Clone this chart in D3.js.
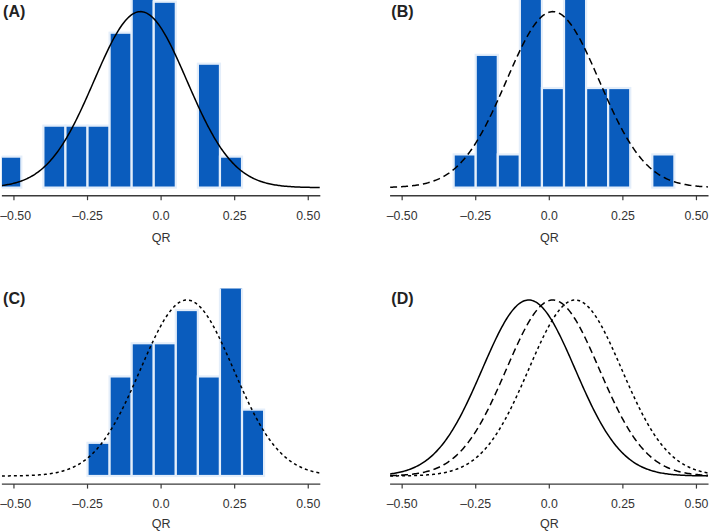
<!DOCTYPE html>
<html>
<head>
<meta charset="utf-8">
<script src="https://cdn.jsdelivr.net/npm/d3@7"></script>
<style>
  html, body { margin: 0; padding: 0; background: #fff; }
  svg { display: block; }
  text { font-family: "Liberation Sans", Arial, sans-serif; }
</style>
</head>
<body>
<svg id="chart" width="709" height="531"></svg>
<script>
// ---------------- data ----------------
const panelLabels = ["(A)", "(B)", "(C)", "(D)"];
const axisTitle = "QR";
const xTicks = [-0.5, -0.25, 0, 0.25, 0.5];
const xTickLabels = ["\u20130.50", "\u20130.25", "0.0", "0.25", "0.50"];

const binWidth = 0.075;
const binStartA = -0.55;
const countsA = [1, 0, 2, 2, 2, 5, 7, 6, 0, 4, 1];
const binStartB = -0.325;
const countsB = [1, 4, 1, 6, 3, 6, 3, 3, 0, 1];
const binStartC = -0.25;
const countsC = [1, 3, 4, 4, 5, 3, 6, 2];

// fitted normal curves (mean, sd)
const fitMeans = [-0.07, 0.012, 0.088];
const fitSd = 0.158;
const lineStyles = ["none", "7,4", "3,3"];

// ---------------- layout ----------------
const svg = d3.select("#chart");
const pxPerUnit = 294.3;
const xHalf = 0.541;
const colX0 = [161.1, 549.3];
const rows = [
  { top: 0, base: 187.6, axisY: 195.7, tickY: 219.6, titleY: 241.8, labelY: 17 },
  { top: 288.4, base: 476.0, axisY: 484.1, tickY: 507.8, titleY: 527.8, labelY: 303.5 }
];
const pxPerDensity = 69.7;
const blue = "#0a5cbd";

function normPdf(x, m, s) {
  return Math.exp(-0.5 * ((x - m) / s) ** 2) / (s * Math.sqrt(2 * Math.PI));
}

const panels = [
  { row: 0, col: 0, start: binStartA, counts: countsA, curves: [0] },
  { row: 0, col: 1, start: binStartB, counts: countsB, curves: [1] },
  { row: 1, col: 0, start: binStartC, counts: countsC, curves: [2] },
  { row: 1, col: 1, start: null, counts: null, curves: [0, 1, 2] }
];

const defs = svg.append("defs");

panels.forEach((p, i) => {
  const r = rows[p.row];
  const x0 = colX0[p.col];
  const x = d3.scaleLinear().domain([-xHalf, xHalf])
    .range([x0 - xHalf * pxPerUnit, x0 + xHalf * pxPerUnit]);
  const yMax = (r.base - r.top) / pxPerDensity;
  const y = d3.scaleLinear().domain([0, yMax]).range([r.base, r.top]);

  const clipId = "clip" + i;
  defs.append("clipPath").attr("id", clipId)
    .append("rect")
    .attr("x", x.range()[0]).attr("y", r.top)
    .attr("width", x.range()[1] - x.range()[0])
    .attr("height", r.base - r.top + 2);

  const g = svg.append("g");
  const plot = g.append("g").attr("clip-path", `url(#${clipId})`);

  // histogram (density scale)
  if (p.counts) {
    const n = d3.sum(p.counts);
    const bins = p.counts.map((c, k) => ({
      x0: p.start + k * binWidth,
      x1: p.start + (k + 1) * binWidth,
      d: c / (n * binWidth)
    })).filter(b => b.d > 0);
    plot.selectAll("rect.bar").data(bins).enter().append("rect")
      .attr("class", "bar")
      .attr("x", b => x(b.x0))
      .attr("width", b => x(b.x1) - x(b.x0))
      .attr("y", b => y(b.d))
      .attr("height", b => y(0) - y(b.d))
      .attr("fill", blue)
      .attr("stroke", "#e4eefa")
      .attr("stroke-width", 2.2);
  }

  // normal curves
  const xs = d3.range(-xHalf, xHalf + 1e-9, 0.004);
  const line = d3.line().x(d => x(d[0])).y(d => y(d[1])).curve(d3.curveLinear);
  p.curves.forEach(ci => {
    const pts = xs.map(v => [v, normPdf(v, fitMeans[ci], fitSd)]);
    plot.append("path")
      .attr("d", line(pts))
      .attr("fill", "none")
      .attr("stroke", "#000")
      .attr("stroke-width", 1.5)
      .attr("stroke-dasharray", lineStyles[ci]);
  });

  // x axis
  g.append("line")
    .attr("x1", x.range()[0]).attr("x2", x.range()[1])
    .attr("y1", r.axisY).attr("y2", r.axisY)
    .attr("stroke", "#3a3a3a").attr("stroke-width", 1.4);
  g.selectAll("line.tick").data(xTicks).enter().append("line")
    .attr("class", "tick")
    .attr("x1", d => x(d)).attr("x2", d => x(d))
    .attr("y1", r.axisY).attr("y2", r.axisY + 4.5)
    .attr("stroke", "#3a3a3a").attr("stroke-width", 1.2);
  g.selectAll("text.tl").data(xTicks).enter().append("text")
    .attr("class", "tl")
    .attr("x", d => Math.max(x(d), 15.6)).attr("y", r.tickY)
    .attr("text-anchor", "middle")
    .attr("font-size", 12.3)
    .attr("fill", "#333")
    .text((d, k) => xTickLabels[k]);
  g.append("text")
    .attr("x", x0).attr("y", r.titleY)
    .attr("text-anchor", "middle")
    .attr("font-size", 12.5)
    .attr("fill", "#333")
    .text(axisTitle);

  // panel label
  g.append("text")
    .attr("x", x0 - 158).attr("y", r.labelY)
    .attr("font-size", 16)
    .attr("font-weight", "bold")
    .attr("fill", "#222")
    .text(panelLabels[i]);
});
</script>
</body>
</html>
